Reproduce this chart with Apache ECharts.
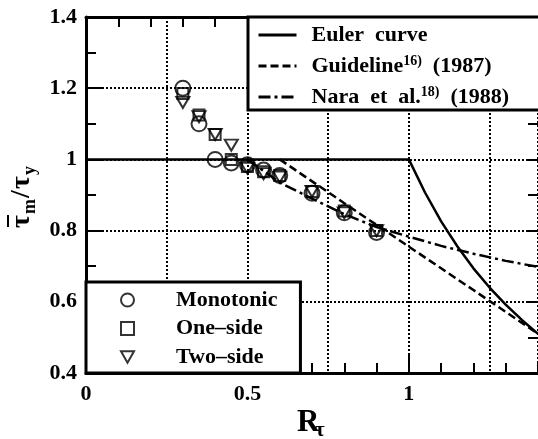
<!DOCTYPE html>
<html>
<head>
<meta charset="utf-8">
<script src="https://cdn.jsdelivr.net/npm/echarts@6/dist/echarts.min.js"></script>
<style>
  html, body { margin: 0; padding: 0; background: #fff; }
  #chart { width: 538px; height: 439px; }
</style>
</head>
<body>
<div id="chart"></div>
<script>
// Design curves: ultimate shear strength ratio vs. web slenderness R_tau
const eulerX = [0, 1.0, 1.05, 1.1, 1.15, 1.2, 1.25, 1.3, 1.35, 1.4];
const eulerY = [1.0, 1.0, 0.907, 0.826, 0.756, 0.694, 0.640, 0.592, 0.549, 0.510];

const guidelineX = [0.6, 0.8, 1.0, 1.2, 1.4];
const guidelineY = [1.0, 0.877, 0.755, 0.633, 0.51];

const naraX = [0.5, 0.6, 0.7, 0.8, 0.9, 1.0, 1.1, 1.2, 1.3, 1.4];
const naraY = [1.0, 0.935, 0.89, 0.846, 0.81, 0.783, 0.757, 0.735, 0.715, 0.698];

// Test results for the three loading patterns
const testX = [0.3, 0.35, 0.4, 0.45, 0.5, 0.55, 0.6, 0.7, 0.8, 0.9];
const monotonicY = [1.20, 1.10, 1.00, 0.99, 0.985, 0.97, 0.955, 0.905, 0.85, 0.795];
const oneSideY   = [1.185, 1.125, 1.07, 1.00, 0.98, 0.965, 0.955, 0.91, 0.855, 0.80];
const twoSideY   = [1.16, 1.12, 1.07, 1.04, 0.975, 0.96, 0.95, 0.91, 0.85, 0.80];

// Tick labels
const xTickValues = [0, 0.5, 1];
const xTickLabels = ['0', '0.5', '1'];
const yTickValues = [0.4, 0.6, 0.8, 1.0, 1.2, 1.4];
const yTickLabels = ['0.4', '0.6', '0.8', '1', '1.2', '1.4'];

const FONT = '"Liberation Serif", "Times New Roman", serif';
const BLACK = '#000';
const dotted = { color: BLACK, width: 2, type: [2, 2] };
const DOWN_TRIANGLE = 'path://M0,0L10,0L5,8.66Z';

const pairs = (xs, ys) => xs.map((x, i) => [x, ys[i]]);
const lookup = (vals, labels) => v => {
  const i = vals.findIndex(t => Math.abs(t - v) < 1e-6);
  return i < 0 ? '' : labels[i];
};

const labelFont = { color: BLACK, fontFamily: FONT, fontWeight: 'bold', fontSize: 22 };

function plainAxis(extra) {
  return Object.assign({
    type: 'value',
    axisLine: { show: false, onZero: false },
    axisTick: { show: false },
    axisLabel: { show: false },
    splitLine: { show: false }
  }, extra);
}

const xRange = { min: 0, max: 1.4 };
const yRange = { min: 0.4, max: 1.4 };
const minorTick = { show: true, inside: true, length: 10, lineStyle: { color: BLACK, width: 2 } };
const majorTick = { show: true, inside: true, length: 18, lineStyle: { color: BLACK, width: 2 } };

const legendNames = {
  'Euler curve': '{b|Euler  curve}',
  'Guideline': '{b|Guideline}{s|16)}{b|  (1987)}',
  'Nara et al.': '{b|Nara  et  al.}{s|18)}{b|  (1988)}'
};

const chart = echarts.init(document.getElementById('chart'), null, { renderer: 'canvas' });

chart.setOption({
  animation: false,
  backgroundColor: '#fff',
  grid: { left: 86, right: -1, top: 17, bottom: 66 },
  xAxis: [
    plainAxis(Object.assign({
      position: 'bottom', interval: 0.5,
      axisLine: { show: true, onZero: false, lineStyle: { color: BLACK, width: 3 } },
      axisTick: majorTick,
      axisLabel: Object.assign({ show: true, margin: 10, showMaxLabel: false,
        formatter: lookup(xTickValues, xTickLabels) }, labelFont)
    }, xRange)),
    plainAxis(Object.assign({ position: 'bottom', interval: 0.1, axisTick: minorTick }, xRange)),
    plainAxis(Object.assign({
      position: 'top', interval: 0.1,
      axisLine: { show: true, onZero: false, lineStyle: { color: BLACK, width: 3 } },
      axisTick: minorTick
    }, xRange)),
    plainAxis(Object.assign({ position: 'bottom', interval: 0.25, splitLine: { show: true, lineStyle: dotted } }, xRange))
  ],
  yAxis: [
    plainAxis(Object.assign({
      position: 'left', interval: 0.2,
      axisLine: { show: true, onZero: false, lineStyle: { color: BLACK, width: 3 } },
      axisTick: majorTick,
      axisLabel: Object.assign({ show: true, margin: 9,
        formatter: lookup(yTickValues, yTickLabels) }, labelFont),
      splitLine: { show: true, lineStyle: dotted }
    }, yRange)),
    plainAxis(Object.assign({ position: 'left', interval: 0.1, axisTick: minorTick }, yRange)),
    plainAxis(Object.assign({ position: 'right', interval: 0.1, axisTick: minorTick }, yRange))
  ],
  legend: [
    {
      data: ['Euler curve', 'Guideline', 'Nara et al.'],
      orient: 'vertical', left: 248, top: 17,
      padding: [6, 80, 1, 9], itemGap: 7, itemWidth: 38, itemHeight: 14,
      backgroundColor: '#fff', borderColor: BLACK, borderWidth: 3, borderRadius: 0,
      selectedMode: false,
      itemStyle: { opacity: 0 },
      lineStyle: { width: 3 },
      formatter: name => legendNames[name],
      textStyle: {
        color: BLACK, fontFamily: FONT, fontWeight: 'bold', fontSize: 22, lineHeight: 24,
        padding: [0, 0, 0, 10],
        rich: {
          b: { color: BLACK, fontFamily: FONT, fontWeight: 'bold', fontSize: 22, lineHeight: 24 },
          s: { color: BLACK, fontFamily: FONT, fontWeight: 'bold', fontSize: 14, lineHeight: 13, verticalAlign: 'top' }
        }
      }
    },
    {
      data: [
        { name: 'Monotonic', icon: 'circle' },
        { name: 'One\u2013side', icon: 'rect' },
        { name: 'Two\u2013side', icon: DOWN_TRIANGLE }
      ],
      orient: 'vertical', left: 86, top: 282,
      padding: [6, 23, 4, 34], itemGap: 4.5, itemWidth: 13, itemHeight: 13,
      backgroundColor: '#fff', borderColor: BLACK, borderWidth: 3, borderRadius: 0,
      selectedMode: false,
      textStyle: {
        color: BLACK, fontFamily: FONT, fontWeight: 'bold', fontSize: 22, lineHeight: 24,
        padding: [0, 0, 0, 37]
      }
    }
  ],
  series: [
    {
      name: 'Euler curve', type: 'line', data: pairs(eulerX, eulerY),
      symbol: 'none', silent: true, lineStyle: { color: BLACK, width: 2.5, type: 'solid' }, itemStyle: { color: BLACK }
    },
    {
      name: 'Guideline', type: 'line', data: pairs(guidelineX, guidelineY),
      symbol: 'none', silent: true, lineStyle: { color: BLACK, width: 2.5, type: [8, 4] }, itemStyle: { color: BLACK }
    },
    {
      name: 'Nara et al.', type: 'line', data: pairs(naraX, naraY),
      symbol: 'none', silent: true, lineStyle: { color: BLACK, width: 2.5, type: [12, 4, 3, 4] }, itemStyle: { color: BLACK }
    },
    {
      name: 'Monotonic', type: 'scatter', data: pairs(testX, monotonicY),
      symbol: 'circle', symbolSize: 15, silent: true,
      itemStyle: { color: 'rgba(0,0,0,0)', borderColor: BLACK, borderWidth: 2 }
    },
    {
      name: 'One\u2013side', type: 'scatter', data: pairs(testX, oneSideY),
      symbol: 'rect', symbolSize: 11, silent: true,
      itemStyle: { color: 'rgba(0,0,0,0)', borderColor: BLACK, borderWidth: 2 }
    },
    {
      name: 'Two\u2013side', type: 'scatter', data: pairs(testX, twoSideY),
      symbol: DOWN_TRIANGLE, symbolSize: [13, 11], silent: true,
      itemStyle: { color: 'rgba(0,0,0,0)', borderColor: BLACK, borderWidth: 2 }
    }
  ],
  graphic: [
    {
      type: 'group', x: 22, y: 228, rotation: Math.PI / 2,
      children: [
        { type: 'text', x: 0, y: 0, style: { text: '\u03c4', fontFamily: FONT, fontWeight: 'bold', fontSize: 28, fill: BLACK, align: 'left', verticalAlign: 'middle' } },
        { type: 'line', shape: { x1: 1, y1: -14, x2: 13, y2: -14 }, style: { stroke: BLACK, lineWidth: 2 } },
        { type: 'text', x: 14, y: 8, style: { text: 'm', fontFamily: FONT, fontWeight: 'bold', fontSize: 18, fill: BLACK, align: 'left', verticalAlign: 'middle' } },
        { type: 'text', x: 30, y: 0, style: { text: '/', fontFamily: FONT, fontWeight: 'bold', fontSize: 28, fill: BLACK, align: 'left', verticalAlign: 'middle' } },
        { type: 'text', x: 39, y: 0, style: { text: '\u03c4', fontFamily: FONT, fontWeight: 'bold', fontSize: 28, fill: BLACK, align: 'left', verticalAlign: 'middle' } },
        { type: 'text', x: 53, y: 8, style: { text: 'y', fontFamily: FONT, fontWeight: 'bold', fontSize: 18, fill: BLACK, align: 'left', verticalAlign: 'middle' } }
      ]
    },
    { type: 'text', x: 297, y: 423, style: { text: 'R', fontFamily: FONT, fontWeight: 'bold', fontSize: 31, fill: BLACK, align: 'left', verticalAlign: 'middle' } },
    { type: 'text', x: 315, y: 431, style: { text: '\u03c4', fontFamily: FONT, fontWeight: 'bold', fontSize: 21, fill: BLACK, align: 'left', verticalAlign: 'middle' } }
  ]
});
</script>
</body>
</html>
